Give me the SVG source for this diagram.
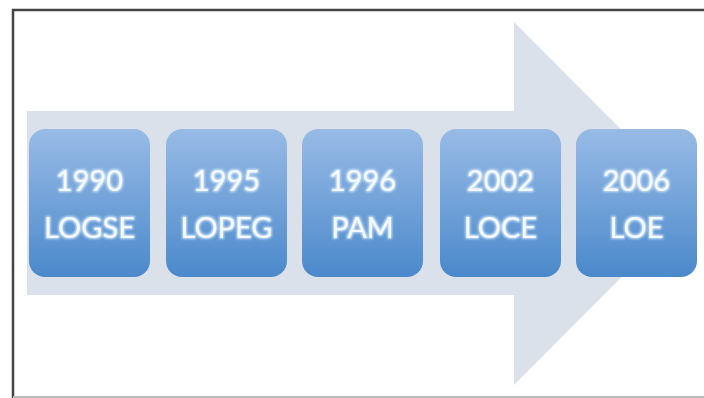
<svg xmlns="http://www.w3.org/2000/svg" width="704" height="398" viewBox="0 0 704 398">
<defs>
<linearGradient id="bg" x1="0" y1="0" x2="0" y2="1">
<stop offset="0" stop-color="#98bbe6"/>
<stop offset="1" stop-color="#4b89cb"/>
</linearGradient>
<filter id="glow" x="-20%" y="-20%" width="140%" height="140%">
<feMorphology in="SourceAlpha" operator="dilate" radius="0.6" result="d"/>
<feGaussianBlur in="d" stdDeviation="1.3" result="b"/>
<feFlood flood-color="#d6ebff" flood-opacity="0.85"/>
<feComposite in2="b" operator="in" result="g"/>
<feMerge><feMergeNode in="g"/><feMergeNode in="SourceGraphic"/></feMerge>
</filter>
<style>
.box{fill:url(#bg);}
.t{font-family:Lato,"Open Sans",sans-serif;font-weight:normal;font-size:29px;fill:#f6faff;text-anchor:middle;filter:url(#glow);}
</style>
</defs>
<rect width="704" height="398" fill="#ffffff"/>
<path d="M13 398 V10 H704" fill="none" stroke="#444" stroke-width="2.5"/>
<line x1="13" y1="397" x2="704" y2="397" stroke="#bbbbbb" stroke-width="2"/>
<g id="arrow">
<path d="M27 111 H514 V22 L695 203.5 L514 385 V295 H27 Z" fill="#dae1ea"/>
</g>
<g id="connectors"></g>
<g id="n1"><rect class="box" x="29" y="129" width="121" height="148" rx="16"/><text class="t" x="89.5" y="191">1990</text><text class="t" x="89.5" y="238">LOGSE</text></g>
<g id="n2"><rect class="box" x="166" y="129" width="121" height="148" rx="16"/><text class="t" x="226.5" y="191">1995</text><text class="t" x="226.5" y="238">LOPEG</text></g>
<g id="n3"><rect class="box" x="302" y="129" width="121" height="148" rx="16"/><text class="t" x="362.5" y="191">1996</text><text class="t" x="362.5" y="238">PAM</text></g>
<g id="n4"><rect class="box" x="440" y="129" width="121" height="148" rx="16"/><text class="t" x="500.5" y="191">2002</text><text class="t" x="500.5" y="238">LOCE</text></g>
<g id="n5"><rect class="box" x="576" y="129" width="121" height="148" rx="16"/><text class="t" x="636.5" y="191">2006</text><text class="t" x="636.5" y="238">LOE</text></g>
</svg>
